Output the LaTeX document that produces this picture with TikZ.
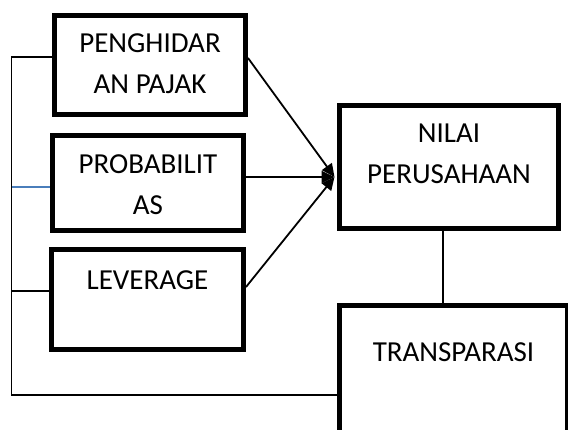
\documentclass[tikz,border=0pt]{standalone}
\usepackage{fontspec}
\setmainfont{Carlito}
\usepackage{xcolor}
\usepackage{tikz}
\usetikzlibrary{arrows.meta, positioning}
\definecolor{wordblue}{RGB}{74,126,187}

\begin{document}
\begin{tikzpicture}[
        x=1pt, y=-1pt,
        box/.style={rectangle, draw, line width=5pt, fill=white, inner sep=0pt},
        txt/.style={anchor=north, align=center, inner sep=0pt, font=\fontsize{29}{41}\selectfont},
        line/.style={draw, line width=1.8pt, -{Triangle[length=13pt,width=12pt]}},
        conn/.style={draw, line width=1.8pt},
        blueconn/.style={draw, line width=1.8pt, wordblue}
    ]
        \useasboundingbox (0,0) rectangle (568,430);
        \clip (0,0) rectangle (568,430);
        \fill[white] (0,0) rectangle (568,430);

        % boxes
        \node [box, minimum width=191pt, minimum height=99pt] (pajak) at (150,65) {};
        \node [box, minimum width=191pt, minimum height=95pt] (prob) at (148,183) {};
        \node [box, minimum width=192pt, minimum height=100pt] (lev) at (147.5,299.5) {};
        \node [box, minimum width=219pt, minimum height=123pt] (nilai) at (449,167) {};
        \node [box, minimum width=228pt, minimum height=164pt] (trans) at (453.5,387.6) {};

        % texts
        \node [txt] (pajaktxt) at ([yshift=-20.5pt]pajak.north) {PENGHIDAR\\AN PAJAK};
        \node [txt] (probtxt) at ([yshift=-21.5pt]prob.north) {PROBABILIT\\AS};
        \node [txt] (levtxt) at ([yshift=-23.5pt]lev.north) {LEVERAGE};
        \node [txt] (nilaitxt) at ([yshift=-20.5pt]nilai.north) {NILAI\\PERUSAHAAN};
        \node [txt] (transtxt) at ([yshift=-39.5pt]trans.north) {TRANSPARASI};

        \coordinate (hub) at ([xshift=-2.5pt,yshift=-10pt]nilai.west);
        \coordinate (bend) at (11.5,395);
        \coordinate (probin) at ([yshift=-4pt]prob.west);
        \coordinate (drop) at ([xshift=-6pt]nilai.south);

        % connectors
        \draw [conn] ([yshift=8pt]pajak.west) -| (bend) -- (trans.west |- bend);
        \draw [conn] ([yshift=8.5pt]lev.west) -| (bend);
        \draw [blueconn] (probin) -- (probin -| bend);
        \draw [conn] (drop) -- (drop |- trans.north);

        \path [line] ([yshift=7pt]pajak.east) -- (hub);
        \path [line] ([yshift=6pt]prob.east) -- (hub);
        \path [line] ([yshift=12.5pt]lev.east) -- (hub);
    \end{tikzpicture}
\end{document}
